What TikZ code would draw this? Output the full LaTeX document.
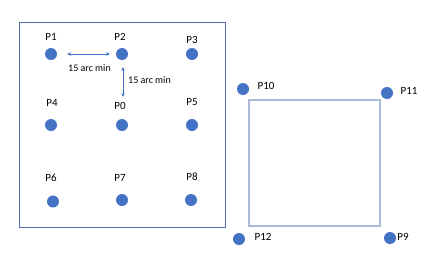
\documentclass[tikz,border=0pt]{standalone}
\usepackage{fontspec}
\setmainfont{Carlito}
\usetikzlibrary{arrows.meta}
\definecolor{dotblue}{HTML}{4472C4}
\definecolor{framec}{HTML}{4F6FA8}
\definecolor{sqc}{HTML}{A9BBD6}
\begin{document}
\begin{tikzpicture}[x=1pt,y=-1pt,
  pt/.style={circle,fill=dotblue,minimum size=12pt,inner sep=0pt},
  lab/.style={font=\fontsize{11}{12}\selectfont,inner sep=0pt},
  small/.style={font=\fontsize{10}{11}\selectfont,inner sep=0pt},
  dim/.style={draw=dotblue,line width=0.6pt,{Stealth[length=4pt,width=3.5pt]}-{Stealth[length=4pt,width=3.5pt]}}]
\useasboundingbox (0,0) rectangle (436,252);
\fill[white] (0,0) rectangle (436,252);
\draw[framec,line width=0.9pt] (19.5,22) rectangle (225.5,227.5);
\draw[sqc,line width=1.4pt] (249,100) rectangle (380,226);
% grid points
\node[pt] (p1) at (51,54) {};
\node[pt] (p2) at (122,54) {};
\node[pt] (p3) at (192,54) {};
\node[pt] (p4) at (51,125) {};
\node[pt] (p0) at (122,125) {};
\node[pt] (p5) at (192,125) {};
\node[pt] (p6) at (53,201.5) {};
\node[pt] (p7) at (122,200) {};
\node[pt] (p8) at (191,200) {};
\node[lab] (l1) at (51,37) {P1};
\node[lab] (l2) at (120,37) {P2};
\node[lab] (l3) at (192,39.5) {P3};
\node[lab] (l4) at (52,103) {P4};
\node[lab] (l0) at (120,106) {P0};
\node[lab] (l5) at (192,102) {P5};
\node[lab] (l6) at (51,178) {P6};
\node[lab] (l7) at (120,178) {P7};
\node[lab] (l8) at (192,177) {P8};
% dimension arrows
\coordinate (ha) at (67,54);
\coordinate (hb) at (110,54);
\coordinate (va) at (123,67);
\coordinate (vb) at (123,97);
\draw[dim] (ha) -- (hb);
\draw[dim] (va) -- (vb);
\node[small] (d1) at (89.5,68) {15 arc min};
\node[small] (d2) at (149.5,80) {15 arc min};
% square corner points
\node[pt] (p10) at (243,89) {};
\node[pt] (p11) at (387,93) {};
\node[pt] (p12) at (239,239) {};
\node[pt] (p9) at (390,238) {};
\node[lab] (l10) at (266,86) {P10};
\node[lab] (l11) at (409,91) {P11};
\node[lab] (l12) at (263,237) {P12};
\node[lab] (l9) at (403,237) {P9};
\end{tikzpicture}
\end{document}
